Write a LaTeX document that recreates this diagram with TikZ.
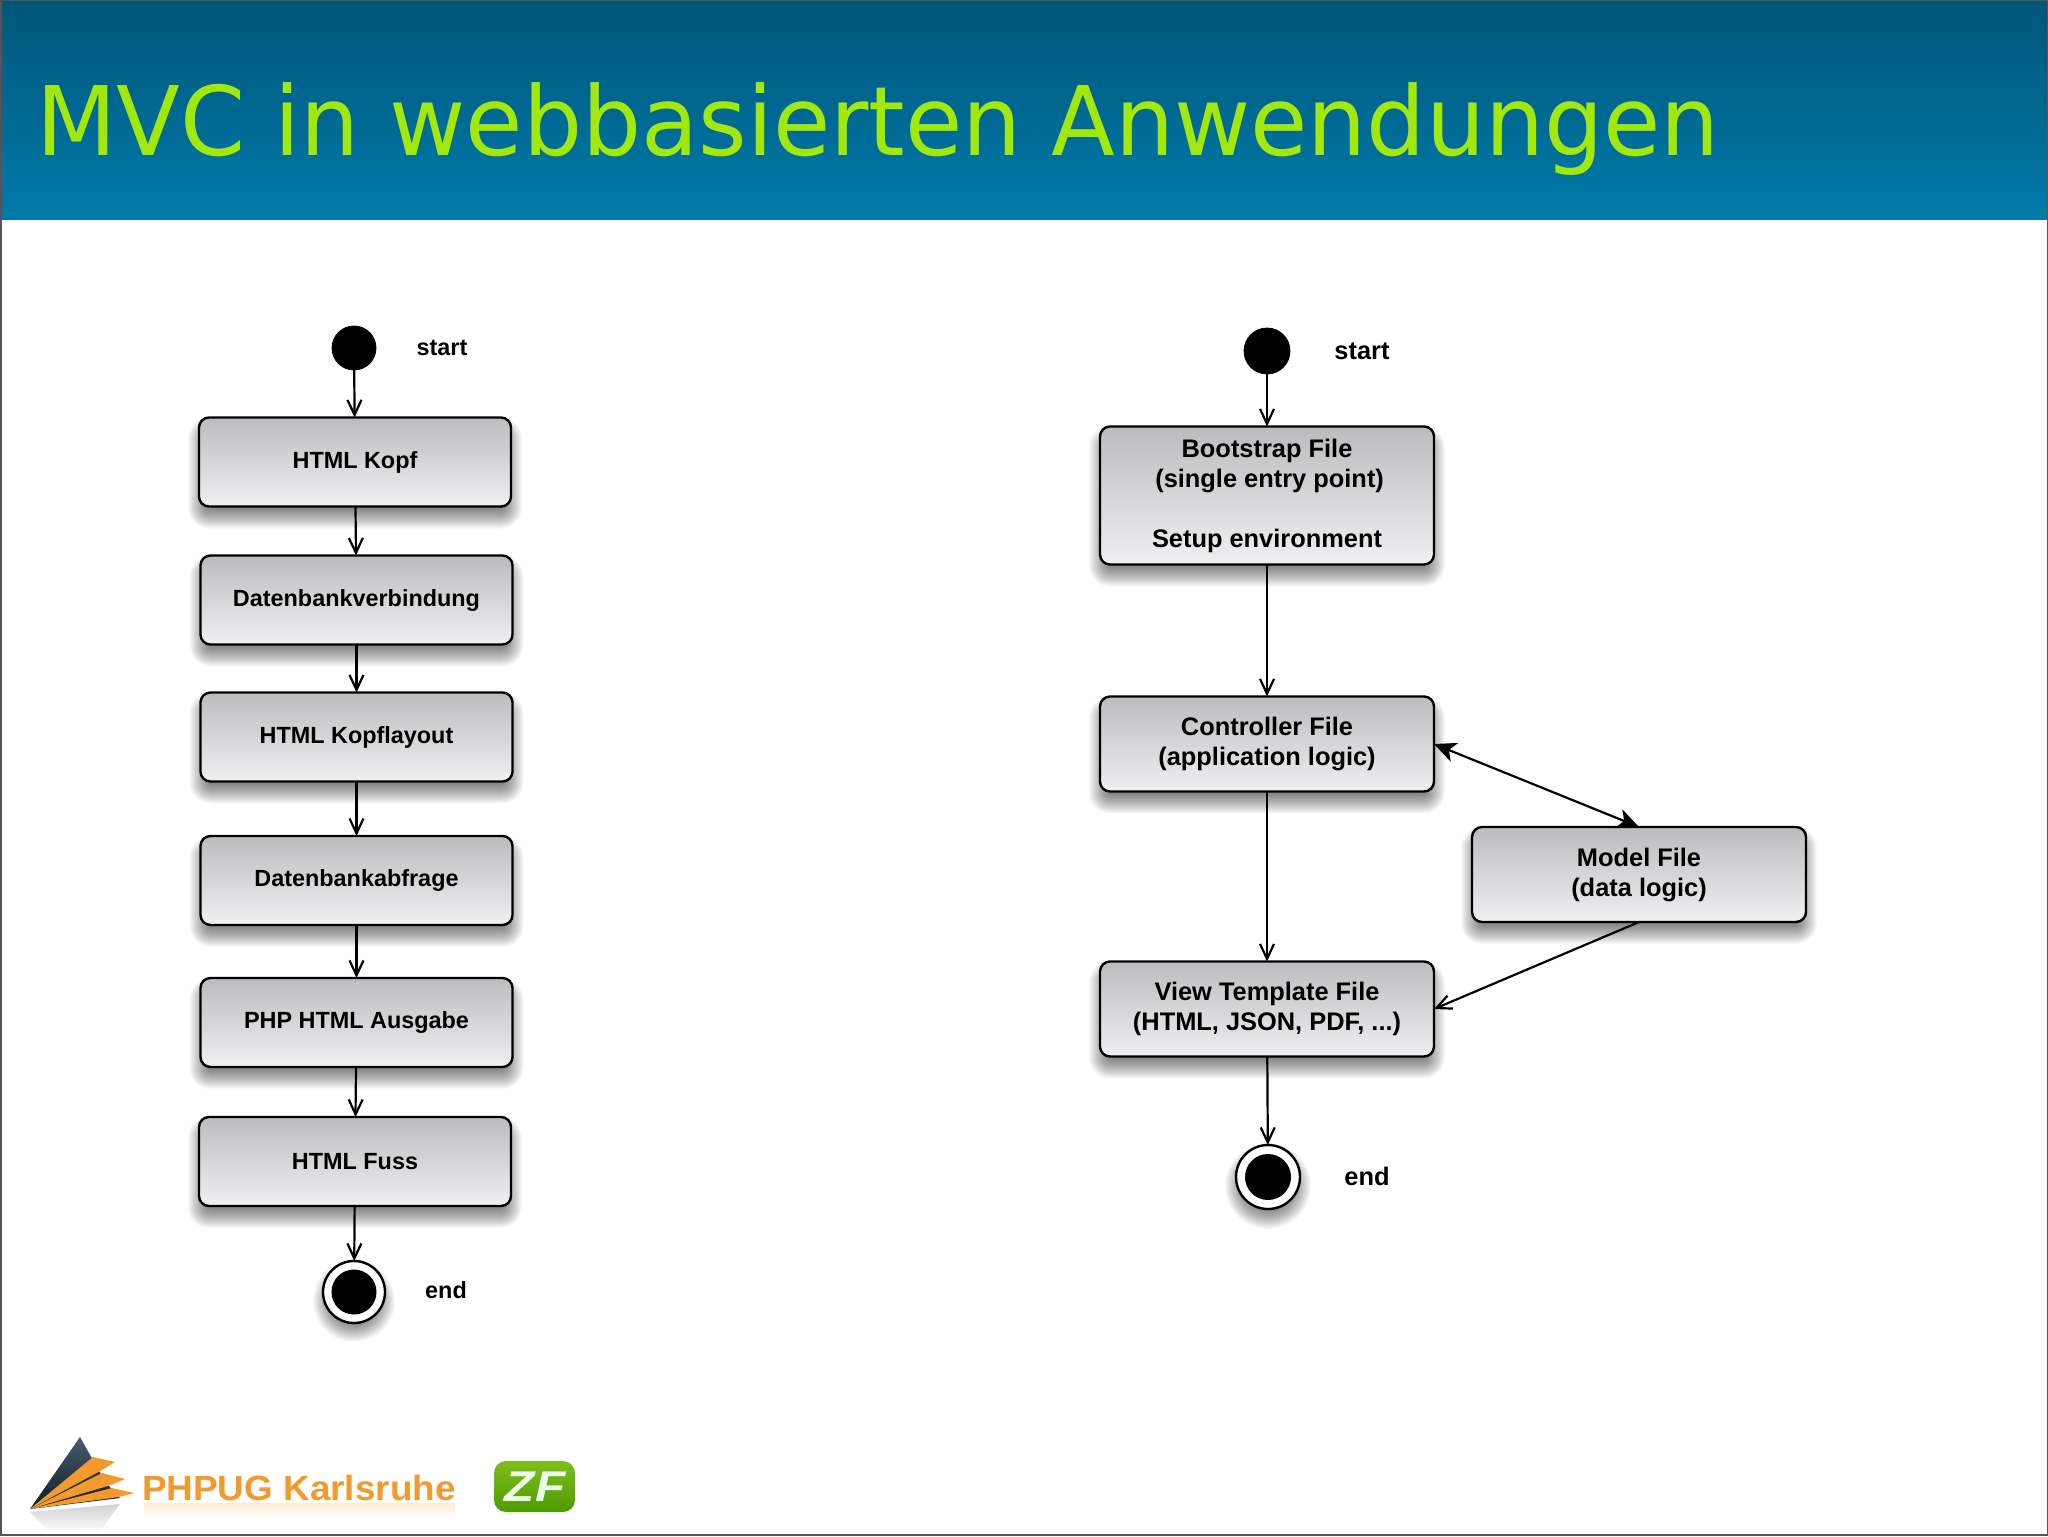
\documentclass[tikz,border=0pt]{standalone}
\usepackage{fontspec}
\setmainfont{Liberation Sans}
\newfontfamily\titlefont{DejaVu Sans}
\usetikzlibrary{arrows.meta,calc,backgrounds,shapes.geometric}
\definecolor{headtop}{HTML}{00557A}
\definecolor{headbot}{HTML}{007BA9}
\definecolor{titlegreen}{HTML}{A2E80E}
\definecolor{orangelogo}{HTML}{F39A2E}
\definecolor{framegray}{HTML}{555555}
\definecolor{boxtop}{HTML}{BCBCBF}
\definecolor{boxbot}{HTML}{F0F0F2}
\definecolor{slatetop}{HTML}{4A5C6E}
\definecolor{slatebot}{HTML}{0D1B26}
\definecolor{zftop}{HTML}{7FBE1C}
\definecolor{zfbot}{HTML}{4F9A02}
\tikzset{
  every node/.style={inner sep=0pt,outer sep=0pt},
  boxbase/.style={draw=black,line width=1.2pt,rounded corners=5pt,shade,top color=boxtop,bottom color=boxbot,align=center},
  leftbox/.style={boxbase,minimum width=156pt,minimum height=44.5pt,font=\bfseries\fontsize{11.7}{14}\selectfont},
  rightbox/.style={boxbase,minimum width=167pt,font=\bfseries\fontsize{12.7}{15}\selectfont},
  startdot/.style={circle,fill=black,draw=black,minimum size=22pt},
  endring/.style={circle,fill=white,draw=black,line width=1.2pt,minimum size=31pt},
  enddot/.style={circle,fill=black,minimum size=22.5pt},
  leftlabel/.style={font=\bfseries\fontsize{11.7}{14}\selectfont},
  rightlabel/.style={font=\bfseries\fontsize{12.7}{15}\selectfont},
  flow/.style={draw=black,line width=1.1pt,-{Straight Barb[length=7.5pt,width=7pt,line width=1.1pt]}},
  twoway/.style={draw=black,line width=1.1pt,{Stealth[length=11pt,width=10pt,inset=3pt]}-{Stealth[length=11pt,width=10pt,inset=3pt]}},
  softshadow/.style={fill=black,fill opacity=0.028},
}
\begin{document}
\begin{tikzpicture}[x=0.5pt,y=-0.5pt]
\useasboundingbox (0,0) rectangle (2048,1536);
\begin{pgfonlayer}{background}
\fill[white] (0,0) rectangle (2048,1536);
\end{pgfonlayer}
% header
\shade[top color=headtop,bottom color=headbot] (0,0) rectangle (2048,219.5);
\node[anchor=base west,text=titlegreen,xscale=0.971,font=\titlefont\fontsize{48}{56}\selectfont] (title) at (36,155.5) {MVC in webbasierten Anwendungen};
% left column
\node[startdot] (ls) at (354,348) {};
\node[leftlabel] (lstart) at (442,347.5) {start};
\node[leftbox] (l1) at (355,462) {HTML Kopf};
\node[leftbox] (l2) at (356.5,600) {Datenbankverbindung};
\node[leftbox] (l3) at (356.5,737) {HTML Kopflayout};
\node[leftbox] (l4) at (356.5,880.5) {Datenbankabfrage};
\node[leftbox] (l5) at (356.5,1022.5) {PHP HTML Ausgabe};
\node[leftbox] (l6) at (355,1161.5) {HTML Fuss};
\node[endring] (le) at (354,1292) {};
\node[enddot] (led) at (354,1292) {};
\node[leftlabel] (lend) at (446,1290) {end};
\draw[flow] (ls) -- (l1);
\draw[flow] (l1) -- (l2);
\draw[flow] (l2) -- (l3);
\draw[flow] (l3) -- (l4);
\draw[flow] (l4) -- (l5);
\draw[flow] (l5) -- (l6);
\draw[flow] (l6) -- (le);
% right column
\node[startdot,minimum size=23pt] (rs) at (1267,351) {};
\node[rightlabel] (rstart) at (1362,351) {start};
\node[rightbox,minimum height=69pt] (boot) at (1267,495.5) {Bootstrap File\\\hspace*{2.6pt}(single entry point)\\[15pt]Setup environment};
\node[rightbox,minimum height=47.5pt] (ctrl) at (1267,744) {Controller File\\(application logic)};
\node[rightbox,minimum height=47.5pt] (view) at (1267,1009) {View Template File\\(HTML, JSON, PDF, ...)};
\node[rightbox,minimum height=47.5pt] (model) at (1639,874.5) {Model File\\(data logic)};
\node[endring,minimum size=32pt] (re) at (1268,1177) {};
\node[enddot,minimum size=23pt] (red) at (1268,1177) {};
\node[rightlabel] (rend) at (1367,1176) {end};
\draw[flow] (rs) -- (boot);
\draw[flow] (boot) -- (ctrl);
\draw[flow] (ctrl) -- (view);
\draw[flow] (view) -- (re);
\draw[twoway] (ctrl.east) -- (model.north);
\draw[flow] (model.south) -- (view.east);
% soft shadows
\begin{pgfonlayer}{background}
\foreach \n in {l1,l2,l3,l4,l5,l6,boot,ctrl,view,model}{
  \foreach \r in {11,10,...,-10}{
    \pgfmathsetmacro{\cr}{max(2,5+0.5*\r)}
    \fill[softshadow,rounded corners=\cr pt] ($(\n.north west)+(-\r,11-\r)$) rectangle ($(\n.south east)+(\r,11+\r)$);
  }
}
\foreach \n/\rr in {le/30,re/32}{
  \foreach \r in {11,10,...,-10}{
    \fill[softshadow] ($(\n.center)+(0,9)$) circle[radius=\rr+\r];
  }
}
\end{pgfonlayer}
% PHPUG logo
\shade[top color=black!18,bottom color=white] (30,1512) -- (120,1504) -- (100,1531) -- (50,1533) -- cycle;
\shade[top color=slatetop,bottom color=slatebot] (80,1437) -- (93,1460) -- (102,1476) -- (112,1490) -- (120,1498) -- (30,1509) -- cycle;
\fill[orangelogo] (30,1509) -- (93,1457) -- (115,1462) -- (102,1470) -- cycle;
\fill[orangelogo] (30,1509) -- (102,1473) -- (125,1479) -- (111,1485) -- cycle;
\fill[orangelogo] (30,1509) -- (112,1488) -- (134,1493) -- (119,1497) -- cycle;
\node[anchor=base west,text=orangelogo,xscale=1.054,font=\bfseries\fontsize{17.5}{20}\selectfont] (php) at (142,1500) {PHPUG Karlsruhe};
\shade[top color=orangelogo!22,bottom color=white] (144,1503) rectangle (455,1518);
% ZF logo
\shade[rounded corners=6pt,top color=zftop,bottom color=zfbot] (494,1461) rectangle (575,1512);
\node[text=white!92!green,xscale=1.15,font=\bfseries\itshape\fontsize{21.5}{24}\selectfont] (zf) at (535,1487) {ZF};
% frame
\draw[framegray,line width=1pt] (0.5,0.5) rectangle (2047.5,1534.5);
\end{tikzpicture}
\end{document}
